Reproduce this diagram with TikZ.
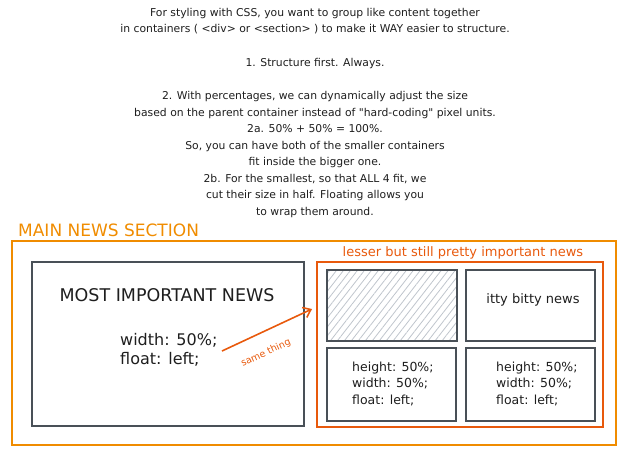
\documentclass[tikz,border=0pt]{standalone}
\usepackage{fontspec}
\setmainfont{DejaVu Sans}
\newfontfamily\straightquotes{DejaVu Sans}[Ligatures=ResetAll]
\usetikzlibrary{patterns.meta,arrows.meta}

\definecolor{mainorange}{HTML}{F08C00}
\definecolor{newsred}{HTML}{E8590C}
\definecolor{boxgray}{HTML}{495057}
\definecolor{inkgray}{HTML}{1E1E1E}
\definecolor{hatchgray}{HTML}{BFC5CC}

\begin{document}
\begin{tikzpicture}[x=1pt, y=-1pt,
  every node/.style={inner sep=0pt, text=inkgray},
  mainframe/.style={draw=mainorange, line width=1.6pt, rectangle},
  lesserframe/.style={draw=newsred, line width=1.6pt, rectangle},
  newsbox/.style={draw=boxgray, line width=2pt, rectangle},
  hatched/.style={pattern={Lines[angle=52, distance=5.5pt, line width=0.8pt]}, pattern color=hatchgray},
  cssnote/.style={align=left, font=\fontsize{12.5}{16.5}\selectfont},
  arr/.style={draw=newsred, line width=1.6pt, -{Straight Barb[length=7pt, width=11pt]}}]

\useasboundingbox (0,0) rectangle (631,451);

% notes on top
\node[align=center, anchor=north, font=\fontsize{10.8}{16.5}\selectfont] (intro) at (315,8)
  {For styling with CSS, you want to group like content together\\
   in containers ( <div> or <section> ) to make it WAY easier to structure.\\[17pt]
   1. Structure first. Always.\\[17pt]
   2. With percentages, we can dynamically adjust the size\\
   based on the parent container instead of {\straightquotes"hard-coding"} pixel units.\\
   2a. 50\% + 50\% = 100\%.\\
   So, you can have both of the smaller containers\\
   fit inside the bigger one.\\
   2b. For the smallest, so that ALL 4 fit, we\\
   cut their size in half. Floating allows you\\
   to wrap them around.};

% containers
\node[mainframe, minimum width=604, minimum height=204] (main) at (314,343) {};
\node[anchor=west, text=mainorange, font=\fontsize{17}{19}\selectfont] (mainlabel) at (18,230) {MAIN NEWS SECTION};

\node[newsbox, minimum width=272, minimum height=164] (big) at (168,344) {};
\node[font=\fontsize{17.5}{19}\selectfont] (bigtitle) at (167,295) {MOST IMPORTANT NEWS};
\node[cssnote, anchor=west, font=\fontsize{16}{19}\selectfont] (bigcss) at (120,349.5) {width: 50\%;\\float: left;};

\node[lesserframe, minimum width=286, minimum height=165] (lesser) at (460,344.5) {};
\node[text=newsred, font=\fontsize{13}{15}\selectfont] (lesserlabel) at (463,253) {lesser but still pretty important news};

\node[newsbox, hatched, minimum width=130, minimum height=71] (hatch) at (392,305.5) {};
\node[newsbox, minimum width=129, minimum height=71] (itty) at (530.5,305.5) {};
\node[font=\fontsize{13}{15}\selectfont] (ittytext) at (533,300) {itty bitty news};
\node[newsbox, minimum width=129, minimum height=73] (smallleft) at (391.5,384.5) {};
\node[newsbox, minimum width=129, minimum height=73] (smallright) at (530.5,384.5) {};
\node[cssnote, anchor=west] (leftcss) at (352,383.5) {height: 50\%;\\width: 50\%;\\float: left;};
\node[cssnote, anchor=west] (rightcss) at (496,383.5) {height: 50\%;\\width: 50\%;\\float: left;};

% arrow
\coordinate (arrtail) at (222,351);
\coordinate (arrtip) at (312,309);
\draw[arr] (arrtail) -- (arrtip);
\node[text=newsred, rotate=25, font=\fontsize{9.5}{11}\selectfont] (samething) at (266,353) {same thing};

\end{tikzpicture}
\end{document}
